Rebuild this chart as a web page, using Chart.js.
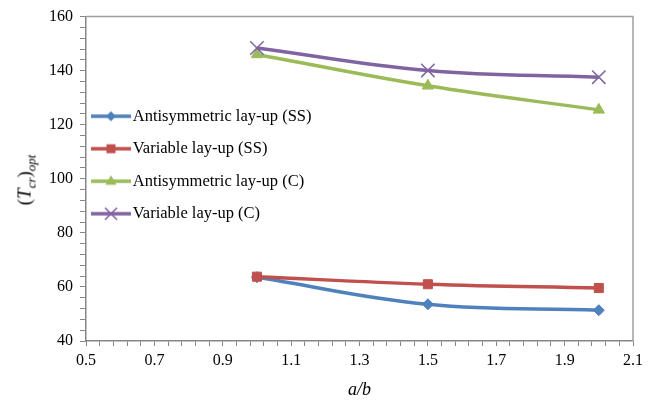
<!DOCTYPE html>
<html><head><meta charset="utf-8">
<script src="https://cdn.jsdelivr.net/npm/chart.js@4/dist/chart.umd.min.js"></script>
<style>
html,body{margin:0;padding:0;background:#fff;}
#wrap{position:relative;width:654px;height:402px;}
#ytitle{position:absolute;left:26px;top:180px;transform:translate(-50%,-50%) rotate(-90deg);font-family:"Liberation Serif";font-size:19px;white-space:nowrap;color:#000;line-height:1;}
#ytitle sub{font-size:13px;vertical-align:-5px;}
</style></head>
<body><div id="wrap"><canvas id="c" width="654" height="402"></canvas><div id="ytitle">(<i>T</i><sub><i>cr</i></sub>)<sub><i>opt</i></sub></div></div>
<script>
// ---- data ----
const aOverB = [1.0, 1.5, 2.0];
const antiSS = [63.6, 53.6, 51.4];
const varSS  = [63.8, 61.0, 59.6];
const antiC  = [146.0, 134.4, 125.5];
const varC   = [148.4, 140.1, 137.6];
const seriesNames = ['Antisymmetric lay-up (SS)', 'Variable lay-up (SS)', 'Antisymmetric lay-up (C)', 'Variable lay-up (C)'];
const xTickLabels = ['0.5','0.7','0.9','1.1','1.3','1.5','1.7','1.9','2.1'];
const yTickLabels = ['40','60','80','100','120','140','160'];

const colors = ['#4F81BD', '#C0504D', '#9BBB59', '#8064A2'];
const styles = ['rectRot', 'rect', 'triangle', 'crossRot'];
const radii = [5.5, 6.4, 6.5, 9.5];
const FONT = '"Liberation Serif", "Times New Roman", serif';

function pts(ys){ return aOverB.map((x,i)=>({x:x, y:ys[i]})); }

function makeIcon(color, style){
  const c = document.createElement('canvas'); c.width = 40; c.height = 16;
  const g = c.getContext('2d');
  g.strokeStyle = color; g.fillStyle = color; g.lineWidth = 3.5;
  g.beginPath(); g.moveTo(0,8); g.lineTo(40,8); g.stroke();
  const cx = 20, cy = 8;
  g.beginPath();
  if (style === 'rectRot') { g.moveTo(cx, cy-5); g.lineTo(cx+5, cy); g.lineTo(cx, cy+5); g.lineTo(cx-5, cy); g.closePath(); g.fill(); }
  else if (style === 'rect') { g.fillRect(cx-4.5, cy-4.5, 9, 9); }
  else if (style === 'triangle') { g.moveTo(cx, cy-6); g.lineTo(cx+5.5, cy+3.5); g.lineTo(cx-5.5, cy+3.5); g.closePath(); g.fill(); }
  else { g.lineWidth = 1.5; g.moveTo(cx-6, cy-6); g.lineTo(cx+6, cy+6); g.moveTo(cx+6, cy-6); g.lineTo(cx-6, cy+6); g.stroke(); }
  return c;
}
const icons = colors.map((c,i)=>makeIcon(c, styles[i]));

const seriesData = [antiSS, varSS, antiC, varC];
const datasets = seriesData.map((ys,i)=>({
  label: seriesNames[i],
  data: pts(ys),
  borderColor: colors[i],
  backgroundColor: colors[i],
  borderWidth: 3.5,
  tension: 0.4,
  pointStyle: styles[i],
  pointRadius: radii[i],
  pointHoverRadius: radii[i],
  pointBorderWidth: i === 3 ? 1.5 : 1,
  pointBackgroundColor: colors[i],
  pointBorderColor: colors[i],
  order: -i
}));

const framePlugin = {
  id: 'frame',
  beforeDatasetsDraw(chart){
    const {ctx, chartArea:a} = chart;
    ctx.save(); ctx.strokeStyle = '#a0a0a0'; ctx.lineWidth = 1.5;
    ctx.beginPath(); ctx.moveTo(a.left, a.top); ctx.lineTo(a.right, a.top); ctx.lineTo(a.right, a.bottom); ctx.stroke();
    ctx.restore();
  },
  afterLayout(chart){
    const lg = chart.legend; if (!lg) return;
    const w = lg.right - lg.left, h = lg.bottom - lg.top;
    lg.left = 81.5; lg.top = 92; lg.right = lg.left + w; lg.bottom = lg.top + h;
  }
};

function isMajor(v, step){ const r = v/step; return Math.abs(r - Math.round(r)) < 1e-6; }

new Chart(document.getElementById('c'), {
  type: 'line',
  data: { datasets },
  plugins: [framePlugin],
  options: {
    responsive: false,
    animation: false,
    layout: { padding: { left: 0, right: 21, top: 15, bottom: 0 } },
    plugins: {
      tooltip: { enabled: false },
      legend: {
        position: 'chartArea',
        align: 'start',
        labels: {
          usePointStyle: true,
          pointStyleWidth: 27,
          padding: 16,
          color: '#000',
          font: { family: FONT, size: 16.5, lineHeight: 1 },
          generateLabels(chart){
            const items = Chart.defaults.plugins.legend.labels.generateLabels(chart);
            items.sort((a,b)=>a.datasetIndex-b.datasetIndex);
            items.forEach(it=>{ it.pointStyle = icons[it.datasetIndex]; });
            return items;
          }
        }
      }
    },
    scales: {
      x: {
        type: 'linear', min: 0.5, max: 2.1,
        afterFit(s){ s.height = 61; },
        border: { color: '#868686', width: 1.5 },
        grid: { drawOnChartArea: false, tickLength: 5, color: '#868686', lineWidth: 1 },
        ticks: {
          stepSize: 0.04, autoSkip: false, maxRotation: 0, padding: 5,
          color: '#000', font: { family: FONT, size: 16 },
          callback(v){
            const k = Math.round(v*10);
            if (Math.abs(v*10 - k) < 1e-6 && k % 2 === 1) { const lbl = (k/10).toFixed(1); return xTickLabels.includes(lbl) ? lbl : ''; }
            return '';
          }
        },
        title: { display: true, text: 'a/b', color: '#000', font: { family: FONT, size: 18, style: 'italic' }, padding: { top: 0, bottom: 1 } }
      },
      y: {
        min: 40, max: 160,
        afterFit(s){ s.width = 86; },
        border: { color: '#868686', width: 1.5 },
        grid: { drawOnChartArea: false, tickLength: 6, color: '#868686', lineWidth: 1 },
        ticks: {
          stepSize: 4, autoSkip: false, padding: 7,
          color: '#000', font: { family: FONT, size: 16 },
          callback(v){ const s = String(Math.round(v)); return (isMajor(v,20) && yTickLabels.includes(s)) ? s : ''; }
        }
      }
    }
  }
});
</script>
</body></html>
